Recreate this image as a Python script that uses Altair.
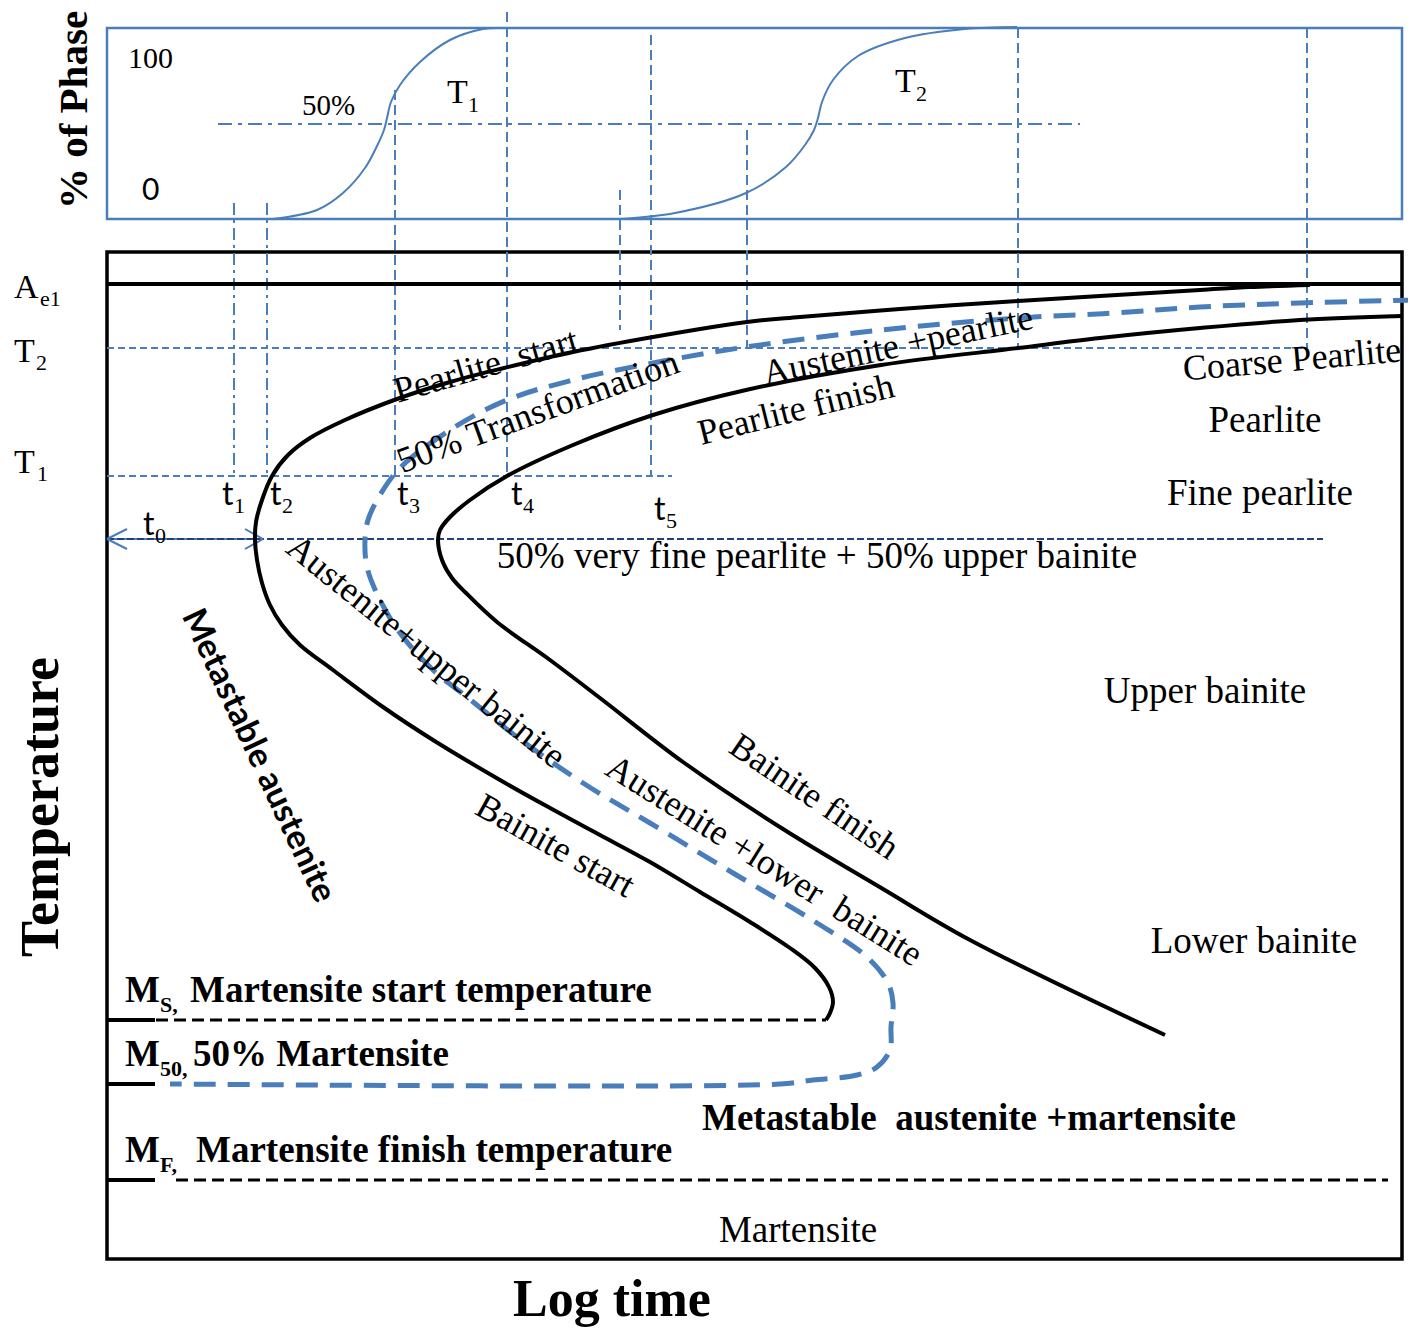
import altair as alt
import pandas as pd

BLUE = "#4A7EBB"
NAVY = "#22407A"
BLACK = "#000000"
SERIF = "Liberation Serif"
SANS = "Lato"

# ---------------- data (diagram units = picture pixels) ----------------
# top panel: transformation progress curves at T1 and T2
t1_curve_x = [273, 317, 343, 365, 377, 384, 387, 391, 400, 420, 450, 483, 503]
t1_curve_y = [219, 210, 193, 168, 146, 130, 118, 102, 85, 62, 40, 29, 28]
t2_curve_x = [620, 675, 746, 786, 805, 814, 818, 822, 833, 858, 905, 965, 1017]
t2_curve_y = [219, 213, 193, 167, 145, 130, 118, 102, 80, 56, 38, 29, 27]

# TTT curves: pearlite/bainite start, 50 % transformation, finish
start_x = [1310, 1250, 1200, 1100, 1018, 900, 800, 747, 653, 573, 500, 450, 397, 345, 310, 288,
           272, 262, 256, 255, 257, 262, 270, 282, 300, 333, 383, 433, 500, 550, 600, 650, 700,
           750, 790, 815, 829, 833, 830, 826]
start_y = [285, 287, 290, 296, 301, 309, 317, 322, 337, 352, 369, 382, 399, 420, 438, 455,
           476, 500, 522, 540, 560, 583, 605, 625, 645, 670, 707, 740, 780, 808, 835, 862, 892,
           922, 948, 968, 987, 1002, 1013, 1020]
half_x = [1415, 1300, 1200, 1115, 1018, 881, 746, 653, 573, 507, 450, 400, 380, 368, 365, 367,
          380, 400, 433, 467, 517, 583, 650, 733, 817, 867, 888, 893, 891, 890, 877, 857, 813,
          780, 170]
half_y = [300, 303, 307, 313, 318, 330, 347, 363, 380, 400, 430, 468, 495, 520, 540, 567,
          600, 633, 670, 697, 737, 783, 823, 873, 923, 957, 983, 1003, 1027, 1050, 1067, 1075,
          1080, 1084, 1084]
finish_x = [1402, 1300, 1200, 1100, 1018, 881, 746, 653, 573, 507, 470, 450, 440, 438, 442, 452,
            466, 497, 550, 600, 683, 783, 883, 970, 1165]
finish_y = [316, 320, 328, 338, 348, 365, 390, 415, 445, 476, 500, 517, 530, 540, 560, 578,
            593, 622, 660, 698, 762, 829, 889, 940, 1035]

# characteristic levels
ae1_level = 284
t2_level = 348
t1_level = 476
t0_level = 539
ms_level = 1020
m50_level = 1084
mf_level = 1180

# characteristic times (vertical guides)
t_dashed_x = [395, 507, 620, 651, 747, 1018, 1307]
t_dashed_top = [90, 12, 190, 35, 130, 28, 28]
t_dashed_bot = [476, 476, 330, 476, 348, 348, 348]
t_dashdot_x = [234, 267]
t_dashdot_top = [203, 203]
t_dashdot_bot = [476, 476]

# labels
region_labels = ["Coarse Pearlite", "Pearlite", "Fine pearlite",
                 "50% very fine pearlite + 50% upper bainite",
                 "Upper bainite", "Lower bainite", "Martensite"]
region_x = [1292, 1265, 1260, 817, 1205, 1254, 798]
region_y = [360, 421, 494, 557, 692, 942, 1231]
region_angle = [355, 0, 0, 0, 0, 0, 0]
region_size = [36, 37, 37, 37, 37, 37, 37]

curve_labels = ["Pearlite\u00a0 start", "50% Transformation", "Austenite +pearlite",
                "Pearlite finish", "Austenite+upper bainite", "Bainite start",
                "Austenite +lower\u00a0 bainite", "Bainite finish"]
curve_lx = [486, 538, 898, 796, 426, 555, 764, 814]
curve_ly = [366, 412, 346, 410, 652, 846, 861, 797]
curve_angle = [344, 340, 348, 346, 39, 29, 32, 34]

m_subs = ["S,", "50,", "F,"]
m_texts = ["Martensite start temperature", "50% Martensite", "Martensite finish temperature"]
m_base = [1002, 1066, 1162]
m_text_x = [190, 193, 196]

t_names = ["0", "1", "2", "3", "4", "5"]
t_lx = [143, 222, 270, 397, 511, 654]
t_ly = [535, 505, 505, 505, 505, 520]

# ---------------- helpers ----------------
def X():
    return alt.X("x:Q", scale=alt.Scale(domain=[8, 1408], nice=False, zero=False), axis=None)


def Y():
    return alt.Y("y:Q", scale=alt.Scale(domain=[8, 1327], nice=False, zero=False, reverse=True),
                 axis=None)


def rules(x1, y1, x2, y2, color, width, dash=None):
    df = pd.DataFrame({"x": x1, "y": y1, "x2": x2, "y2": y2})
    kw = dict(color=color, strokeWidth=width)
    if dash:
        kw["strokeDash"] = dash
    return alt.Chart(df).mark_rule(**kw).encode(x=X(), y=Y(), x2="x2:Q", y2="y2:Q")


def curve(xv, yv, color, width, dash=None):
    df = pd.DataFrame({"x": xv, "y": yv, "i": list(range(len(xv)))})
    kw = dict(color=color, strokeWidth=width, interpolate="catmull-rom", strokeCap="butt")
    if dash:
        kw["strokeDash"] = dash
    return alt.Chart(df).mark_line(**kw).encode(x=X(), y=Y(), order="i:Q")


def frame(x1, x2, y1, y2, color, width):
    df = pd.DataFrame({"x": [x1], "x2": [x2], "y": [y1], "y2": [y2]})
    return alt.Chart(df).mark_rect(fill="white", fillOpacity=0, stroke=color,
                                   strokeWidth=width).encode(x=X(), x2="x2:Q", y=Y(), y2="y2:Q")


def label(text, x, y, size, font=SERIF, weight="normal", angle=0, align="center",
          baseline="middle", color=BLACK):
    df = pd.DataFrame({"x": [x], "y": [y], "t": [text]})
    return alt.Chart(df).mark_text(font=font, fontSize=size, fontWeight=weight, angle=angle,
                                   align=align, baseline=baseline, color=color
                                   ).encode(x=X(), y=Y(), text="t:N")


layers = []

# frames
layers.append(frame(107, 1402, 28, 219, BLUE, 2.5))
layers.append(frame(107, 1402, 252, 1259, BLACK, 3.5))

# top panel 50 % line and curves
layers.append(rules([218], [124], [1080], [124], BLUE, 2, [14, 6, 4, 6]))
layers.append(curve(t1_curve_x, t1_curve_y, BLUE, 2))
layers.append(curve(t2_curve_x, t2_curve_y, BLUE, 2))

# vertical guides
layers.append(rules(t_dashed_x, t_dashed_top, t_dashed_x, t_dashed_bot, BLUE, 2, [10, 5]))
layers.append(rules(t_dashdot_x, t_dashdot_top, t_dashdot_x, t_dashdot_bot, BLUE, 2,
                    [12, 5, 3, 5]))

# horizontal guides
layers.append(rules([107, 107], [t2_level, t1_level], [1307, 672], [t2_level, t1_level],
                    BLUE, 2, [7, 4]))
layers.append(rules([107], [t0_level], [263], [t0_level], BLUE, 2))
layers.append(rules([107], [t0_level], [1323], [t0_level], NAVY, 2, [7, 3]))
# arrow heads of t0
layers.append(rules([107, 107, 263, 263], [t0_level] * 4, [127, 127, 245, 245],
                    [529, 549, 529, 549], BLUE, 2))

# Ae1
layers.append(rules([107], [ae1_level], [1402], [ae1_level], BLACK, 4))

# martensite levels
layers.append(rules([107, 107, 107], [ms_level, m50_level, mf_level], [155, 155, 155],
                    [ms_level, m50_level, mf_level], BLACK, 4))
layers.append(rules([156], [ms_level], [826], [ms_level], BLACK, 3, [12, 6]))
layers.append(rules([176], [mf_level], [1388], [mf_level], BLACK, 3, [12, 6]))

# TTT curves
layers.append(curve(start_x, start_y, BLACK, 4))
layers.append(curve(finish_x, finish_y, BLACK, 4))
layers.append(curve(half_x, half_y, BLUE, 5, [22, 12]))

# region labels
for t, x, y, a, s in zip(region_labels, region_x, region_y, region_angle, region_size):
    layers.append(label(t, x, y, s, angle=a))
for t, x, y, a in zip(curve_labels, curve_lx, curve_ly, curve_angle):
    layers.append(label(t, x, y, 36, angle=a))
layers.append(label("Metastable austenite", 258, 756, 34, font=SANS, weight="bold", angle=65))

# martensite labels
for s, t, b, tx in zip(m_subs, m_texts, m_base, m_text_x):
    layers.append(label("M", 125, b, 37, weight="bold", align="left", baseline="alphabetic"))
    layers.append(label(s, 160, b + 10, 22, weight="bold", align="left", baseline="alphabetic"))
    layers.append(label(t, tx, b, 37, weight="bold", align="left", baseline="alphabetic"))
layers.append(label("Metastable\u00a0 austenite +martensite", 702, 1130, 37, weight="bold",
                    align="left", baseline="alphabetic"))

# axis titles
layers.append(label("Temperature", 58, 807, 54, weight="bold", angle=270,
                    baseline="alphabetic"))
layers.append(label("Log time", 612, 1316, 52, weight="bold", baseline="alphabetic"))
layers.append(label("% of Phase", 87, 110, 41, weight="bold", angle=270, baseline="alphabetic"))

# temperature symbols on left
for main, sub, b, sx in [("A", "e1", 298, 40), ("T", "2", 362, 36), ("T", "1", 473, 37)]:
    layers.append(label(main, 14, b, 34, align="left", baseline="alphabetic"))
    layers.append(label(sub, sx, b + 8, 22, align="left", baseline="alphabetic"))

# top panel labels
layers.append(label("100", 128, 68, 30, align="left", baseline="alphabetic"))
layers.append(label("0", 142, 200, 30, font=SANS, align="left", baseline="alphabetic"))
layers.append(label("50%", 302, 115, 29, align="left", baseline="alphabetic"))
for x, b, s in [(447, 103, "1"), (895, 92, "2")]:
    layers.append(label("T", x, b, 34, align="left", baseline="alphabetic"))
    layers.append(label(s, x + 21, b + 9, 22, align="left", baseline="alphabetic"))

# time labels
for n, x, b in zip(t_names, t_lx, t_ly):
    layers.append(label("t", x, b, 32, font=SANS, align="left", baseline="alphabetic"))
    layers.append(label(n, x + 12, b + 8, 22, align="left", baseline="alphabetic"))

chart = alt.layer(*layers).properties(
    width=1400, height=1319, padding=0,
    autosize=alt.AutoSizeParams(type="none"),
    background="white",
).configure_view(stroke=None)

chart.save("out.html", embed_options={"renderer": "svg", "actions": False})
